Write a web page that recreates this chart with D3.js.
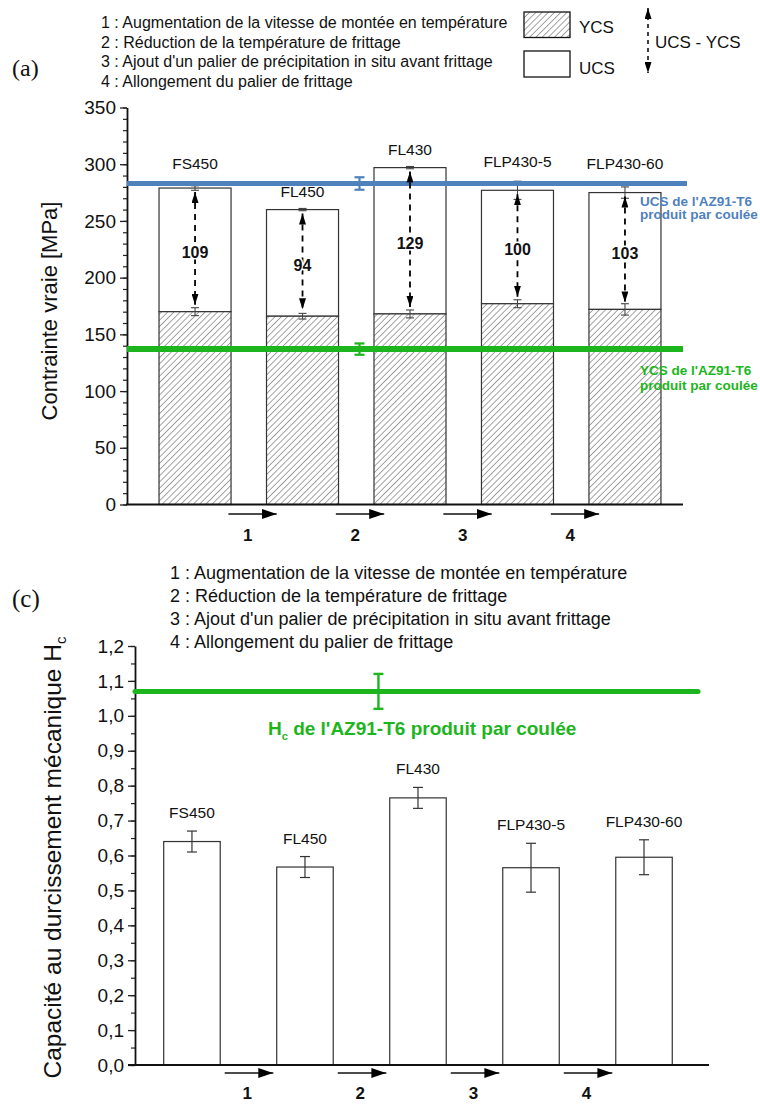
<!DOCTYPE html>
<html><head><meta charset="utf-8">
<script src="https://cdn.jsdelivr.net/npm/d3@7"></script>
<style>
body{margin:0;background:#fff}
svg{display:block}
text{font-family:Arial,"Liberation Sans",sans-serif;fill:#111}
</style>
</head><body>
<svg id="chart" width="760" height="1104"></svg>
<script>
// ---------- data ----------
const categories = ["FS450", "FL450", "FL430", "FLP430-5", "FLP430-60"];
const ycsValues = [170, 166, 168, 177, 172];
const ycsErrors = [3.5, 2.5, 3.5, 3.5, 5];
const ucsValues = [279, 260, 297, 277, 275];
const ucsErrors = [2, 1, 1, 8, 5];
const diffLabels = [109, 94, 129, 100, 103];
const castUCS = 283, castUCSErr = 5.5;
const castYCS = 137, castYCSErr = 5;
const hcValues = [0.64, 0.567, 0.765, 0.565, 0.595];
const hcErrors = [0.03, 0.03, 0.03, 0.07, 0.05];
const castHc = 1.07, castHcErr = 0.05;
const ticksA = [0, 50, 100, 150, 200, 250, 300, 350];
const ticksC = [0, 0.1, 0.2, 0.3, 0.4, 0.5, 0.6, 0.7, 0.8, 0.9, 1.0, 1.1, 1.2];
const stepNumbers = ["1", "2", "3", "4"];
const stepLegend = [
  "1 : Augmentation de la vitesse de montée en température",
  "2 : Réduction de la température de frittage",
  "3 : Ajout d'un palier de précipitation in situ avant frittage",
  "4 : Allongement du palier de frittage"
];
const castErrPosA = 2.53, castErrPosC = 2.65;

// ---------- setup ----------
const svg = d3.select("#chart");
const BLUE = "#4f81bd", GREEN = "#1db51d";
const defs = svg.append("defs");
const pat = defs.append("pattern").attr("id", "hatch").attr("patternUnits", "userSpaceOnUse")
  .attr("width", 4.4).attr("height", 4.4).attr("patternTransform", "rotate(45)");
pat.append("rect").attr("width", 4.4).attr("height", 4.4).attr("fill", "#fff");
pat.append("line").attr("x1", 0).attr("y1", 0).attr("x2", 0).attr("y2", 4.4)
  .attr("stroke", "#333").attr("stroke-width", 0.9);

function marker(id, w, h) {
  defs.append("marker").attr("id", id).attr("viewBox", `0 0 ${w} ${h}`)
    .attr("refX", w).attr("refY", h / 2).attr("markerWidth", w).attr("markerHeight", h)
    .attr("markerUnits", "userSpaceOnUse").attr("orient", "auto-start-reverse")
    .append("path").attr("d", `M0,0 L${w},${h / 2} L0,${h} Z`).attr("fill", "#000");
}
marker("dhead", 11, 7);
marker("bhead", 15, 10);

function errBar(g, x, y0, y1, cap, color, w) {
  g.append("line").attr("x1", x).attr("x2", x).attr("y1", y0).attr("y2", y1).attr("stroke", color).attr("stroke-width", w);
  [y0, y1].forEach(y => g.append("line").attr("x1", x - cap).attr("x2", x + cap).attr("y1", y).attr("y2", y)
    .attr("stroke", color).attr("stroke-width", w));
}

function yAxis(g, scale, major, minor, fmt, fs) {
  g.append("g").attr("transform", `translate(${scale.xPos},0)`)
    .call(d3.axisLeft(scale).tickValues(minor).tickSize(4).tickFormat(""))
    .call(s => s.select(".domain").remove())
    .selectAll("line").attr("stroke", "#222").attr("stroke-width", 1.2);
  const a = g.append("g").attr("transform", `translate(${scale.xPos},0)`)
    .call(d3.axisLeft(scale).tickValues(major).tickSize(7).tickSizeOuter(0).tickPadding(4).tickFormat(fmt));
  a.select(".domain").attr("stroke", "#111").attr("stroke-width", 1.8);
  a.selectAll("line").attr("stroke", "#222").attr("stroke-width", 1.3);
  a.selectAll("text").style("font-size", fs + "px").attr("fill", "#222").attr("font-family", "Arial, 'Liberation Sans', sans-serif");
}

// ---------- panel (a) ----------
const gA = svg.append("g");
const xA = d3.scaleLinear().domain([0.367, 5.54]).range([127, 683]);
const yA = d3.scaleLinear().domain([0, 350]).range([504.5, 107.5]);
yA.xPos = 127;
const bwA = xA(1.67) - xA(1);

gA.append("text").attr("x", 12).attr("y", 76).text("(a)")
  .style("font-family", "'Liberation Serif','Times New Roman',serif").style("font-size", "24px");
stepLegend.forEach((t, i) => gA.append("text").attr("x", 101).attr("y", 28 + i * 19.6).text(t).style("font-size", "16px"));
// legend boxes
gA.append("rect").attr("x", 524).attr("y", 12).attr("width", 46).attr("height", 25.5).attr("fill", "url(#hatch)").attr("stroke", "#111").attr("stroke-width", 1.3);
gA.append("rect").attr("x", 524).attr("y", 51).attr("width", 46).attr("height", 26).attr("fill", "#fff").attr("stroke", "#111").attr("stroke-width", 1.3);
gA.append("text").attr("x", 579).attr("y", 32.5).text("YCS").style("font-size", "17px");
gA.append("text").attr("x", 579).attr("y", 74).text("UCS").style("font-size", "17px");
gA.append("line").attr("x1", 648).attr("x2", 648).attr("y1", 8).attr("y2", 73)
  .attr("stroke", "#000").attr("stroke-width", 1.5).attr("stroke-dasharray", "4,4")
  .attr("marker-start", "url(#dhead)").attr("marker-end", "url(#dhead)");
gA.append("text").attr("x", 655).attr("y", 47.5).text("UCS - YCS").style("font-size", "17px");

yAxis(gA, yA, ticksA, d3.range(0, 351, 10), d3.format("d"), 19);
gA.append("text").attr("transform", `translate(57,${(yA(0) + yA(350)) / 2 + 5}) rotate(-90)`)
  .attr("text-anchor", "middle").text("Contrainte vraie [MPa]").style("font-size", "22px");

categories.forEach((c, i) => {
  const cx = xA(i + 1);
  gA.append("rect").attr("x", cx - bwA / 2).attr("width", bwA).attr("y", yA(ucsValues[i]))
    .attr("height", yA(ycsValues[i]) - yA(ucsValues[i])).attr("fill", "#fff").attr("stroke", "#333").attr("stroke-width", 1.2);
  gA.append("rect").attr("x", cx - bwA / 2).attr("width", bwA).attr("y", yA(ycsValues[i]))
    .attr("height", yA(0) - yA(ycsValues[i])).attr("fill", "url(#hatch)").attr("stroke", "#333").attr("stroke-width", 1.2);
  errBar(gA, cx, yA(ucsValues[i] + ucsErrors[i]), yA(ucsValues[i] - ucsErrors[i]), 4, "#444", 1.1);
  errBar(gA, cx, yA(ycsValues[i] + ycsErrors[i]), yA(ycsValues[i] - ycsErrors[i]), 4, "#444", 1.1);
});

// reference lines
gA.append("line").attr("x1", 127).attr("x2", 687).attr("y1", yA(castUCS)).attr("y2", yA(castUCS)).attr("stroke", BLUE).attr("stroke-width", 5);
errBar(gA, xA(castErrPosA), yA(castUCS + castUCSErr), yA(castUCS - castUCSErr), 5, BLUE, 2.2);
gA.append("line").attr("x1", 127).attr("x2", 683).attr("y1", yA(castYCS)).attr("y2", yA(castYCS)).attr("stroke", GREEN).attr("stroke-width", 6);
errBar(gA, xA(castErrPosA), yA(castYCS + castYCSErr), yA(castYCS - castYCSErr), 5, GREEN, 2.2);

categories.forEach((c, i) => {
  const cx = xA(i + 1);
  gA.append("line").attr("x1", cx).attr("x2", cx).attr("y1", yA(ucsValues[i]) + 4).attr("y2", yA(ycsValues[i]) - 7)
    .attr("stroke", "#000").attr("stroke-width", 1.8).attr("stroke-dasharray", "6,5")
    .attr("marker-start", "url(#dhead)").attr("marker-end", "url(#dhead)");
  const mid = (yA(ucsValues[i]) + yA(ycsValues[i])) / 2;
  gA.append("text").attr("x", cx).attr("y", mid + 8).attr("text-anchor", "middle").text(diffLabels[i])
    .style("font-size", "16px").style("font-weight", "bold")
    .attr("stroke", "#fff").attr("stroke-width", 3).attr("paint-order", "stroke");
  const top = ucsValues[i] + ucsErrors[i];
  const ly = Math.abs(top - castUCS) < 10 ? Math.min(yA(top), yA(castUCS)) - 20 : yA(top) - 17;
  gA.append("text").attr("x", cx).attr("y", ly + 5.5).attr("text-anchor", "middle").text(c).style("font-size", "15.5px");
});

// x axis (a)
gA.append("line").attr("x1", 126).attr("x2", 683).attr("y1", yA(0)).attr("y2", yA(0)).attr("stroke", "#111").attr("stroke-width", 1.8);
stepNumbers.forEach((s, i) => {
  const t = i + 1;
  gA.append("line").attr("x1", xA(t + 0.31)).attr("x2", xA(t + 0.76)).attr("y1", 514).attr("y2", 514)
    .attr("stroke", "#111").attr("stroke-width", 1.5).attr("marker-end", "url(#bhead)");
  gA.append("text").attr("x", xA(t + 0.49)).attr("y", 541).attr("text-anchor", "middle").text(s)
    .style("font-size", "17px").style("font-weight", "bold");
});

gA.append("text").attr("x", 640).attr("y", 206).text("UCS de l'AZ91-T6").style("font-size", "13.5px").style("font-weight", "bold").style("fill", BLUE);
gA.append("text").attr("x", 640).attr("y", 219).text("produit par coulée").style("font-size", "13.5px").style("font-weight", "bold").style("fill", BLUE);
gA.append("text").attr("x", 640).attr("y", 375).text("YCS de l'AZ91-T6").style("font-size", "13.5px").style("font-weight", "bold").style("fill", GREEN);
gA.append("text").attr("x", 640).attr("y", 389.5).text("produit par coulée").style("font-size", "13.5px").style("font-weight", "bold").style("fill", GREEN);

// ---------- panel (c) ----------
const gC = svg.append("g");
const xC = d3.scaleLinear().domain([0.496, 5.575]).range([135, 709]);
const yC = d3.scaleLinear().domain([0, 1.2]).range([1065, 646]);
yC.xPos = 135;
const bwC = xC(1.5) - xC(1);

gC.append("text").attr("x", 12).attr("y", 607).text("(c)")
  .style("font-family", "'Liberation Serif','Times New Roman',serif").style("font-size", "25px");
stepLegend.forEach((t, i) => gC.append("text").attr("x", 170).attr("y", 579 + i * 22.9).text(t).style("font-size", "18px"));

yAxis(gC, yC, ticksC, d3.range(0, 25).map(k => k * 0.05), d => d.toFixed(1).replace(".", ","), 19);
const yl = gC.append("text").attr("transform", `translate(61,${(yC(0) + yC(1.2)) / 2 + 2}) rotate(-90)`)
  .attr("text-anchor", "middle").style("font-size", "24.5px");
yl.append("tspan").text("Capacité au durcissement mécanique H");
yl.append("tspan").text("c").attr("dy", 5).style("font-size", "15px");

categories.forEach((c, i) => {
  const cx = xC(i + 1);
  gC.append("rect").attr("x", cx - bwC / 2).attr("width", bwC).attr("y", yC(hcValues[i]))
    .attr("height", yC(0) - yC(hcValues[i])).attr("fill", "#fff").attr("stroke", "#333").attr("stroke-width", 1.2);
  errBar(gC, cx, yC(hcValues[i] + hcErrors[i]), yC(hcValues[i] - hcErrors[i]), 5, "#333", 1.2);
  gC.append("text").attr("x", cx).attr("y", yC(hcValues[i] + hcErrors[i]) - 18.5 + 5.5)
    .attr("text-anchor", "middle").text(c).style("font-size", "15.5px");
});

gC.append("line").attr("x1", 135).attr("x2", 698).attr("y1", yC(castHc)).attr("y2", yC(castHc))
  .attr("stroke", GREEN).attr("stroke-width", 5).attr("stroke-linecap", "round");
errBar(gC, xC(castErrPosC), yC(castHc + castHcErr), yC(castHc - castHcErr), 5, GREEN, 2.4);
const ht = gC.append("text").attr("x", 268).attr("y", 735).style("font-size", "19px").style("font-weight", "bold").style("fill", GREEN);
ht.append("tspan").text("H");
ht.append("tspan").text("c").attr("dy", 5).style("font-size", "11px");
ht.append("tspan").text(" de l'AZ91-T6 produit par coulée").attr("dy", -5);

gC.append("line").attr("x1", 128).attr("x2", 709).attr("y1", yC(0)).attr("y2", yC(0)).attr("stroke", "#111").attr("stroke-width", 1.8);
stepNumbers.forEach((s, i) => {
  const t = i + 1;
  gC.append("line").attr("x1", xC(t + 0.29)).attr("x2", xC(t + 0.72)).attr("y1", 1073).attr("y2", 1073)
    .attr("stroke", "#111").attr("stroke-width", 1.5).attr("marker-end", "url(#bhead)");
  gC.append("text").attr("x", xC(t + 0.49)).attr("y", 1099).attr("text-anchor", "middle").text(s)
    .style("font-size", "17px").style("font-weight", "bold");
});
</script>
</body></html>
